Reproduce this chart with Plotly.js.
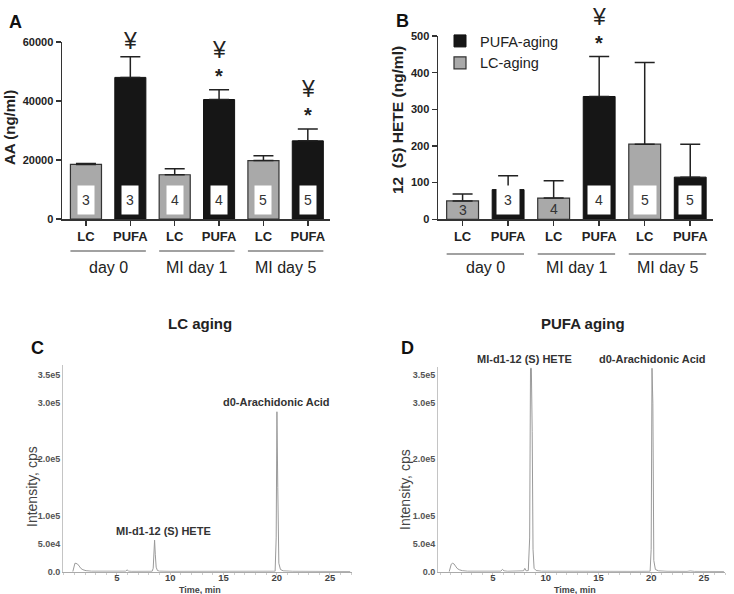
<!DOCTYPE html>
<html><head><meta charset="utf-8">
<script src="https://cdn.plot.ly/plotly-3.0.1.min.js"></script>
<style>html,body{margin:0;padding:0;background:#fff}</style>
</head><body><div id="chart" style="width:734px;height:594px"></div>
<script>
// ---------- data ----------
const groups = ["day 0", "MI day 1", "MI day 5"];
const subLabels = ["LC", "PUFA"];
const seriesNames = ["LC-aging", "PUFA-aging"];

// Panel A: AA (ng/ml)
const aaLC = [18500, 15000, 19800];
const aaLCErr = [300, 2000, 1600];
const aaPUFA = [48000, 40500, 26500];
const aaPUFAErr = [7000, 3300, 4000];
const aaN = [3, 4, 5];
const aaSig = ["¥", "*¥", "*¥"];          // marks above PUFA bars

// Panel B: 12 (S) HETE (ng/ml)
const heteLC = [50, 58, 205];
const heteLCErr = [19, 47, 223];
const hetePUFA = [81, 335, 115];
const hetePUFAErr = [38, 109, 90];
const heteN = [3, 4, 5];
const heteSig = ["", "*¥", ""];
const heteLCBoxed = [false, false, true];

// Panels C/D: chromatograms (time, min / intensity, cps)
const lcTime = [0.85, 0.95, 1.05, 1.15, 1.3, 1.45, 1.6, 1.8, 2.1, 2.6, 3.5, 4.5, 5.8, 5.95, 6.1, 6.4, 7.5, 8.3, 8.4, 8.47, 8.53, 8.6, 8.68, 8.8, 9.0, 10, 12, 15, 18, 19.85, 19.95, 20.02, 20.1, 20.2, 20.35, 20.6, 21.5, 23.4, 23.7, 24.1, 25.5, 26.9];
const lcIntensity = [0, 9000, 15000, 14800, 13500, 10000, 6000, 3500, 1800, 900, 600, 500, 900, 3200, 900, 600, 500, 700, 6000, 40000, 56000, 30000, 8000, 2000, 900, 600, 500, 500, 500, 800, 60000, 284000, 150000, 15000, 4000, 1500, 700, 500, 1500, 500, 400, 300];
const pufaTime = [0.85, 0.95, 1.05, 1.15, 1.3, 1.45, 1.6, 1.8, 2.1, 2.6, 3.5, 4.5, 5.75, 5.9, 6.05, 6.4, 7.5, 7.9, 8.02, 8.15, 8.35, 8.48, 8.56, 8.64, 8.72, 8.8, 8.9, 9.1, 9.6, 12, 15, 18, 19.9, 20.0, 20.08, 20.16, 20.25, 20.4, 20.7, 21.5, 23.4, 23.7, 24.1, 25.5, 26.9];
const pufaIntensity = [0, 7000, 13500, 15000, 14000, 10000, 6000, 3500, 1800, 900, 600, 500, 900, 4200, 1500, 800, 700, 1500, 6000, 1500, 2000, 60000, 362000, 362000, 250000, 40000, 6000, 2000, 900, 500, 500, 500, 700, 40000, 362000, 300000, 20000, 4000, 1500, 700, 500, 1300, 500, 400, 300];
const peakNames = ["MI-d1-12 (S) HETE", "d0-Arachidonic Acid"];
const peakTimes = [8.55, 20.05];
const intensityTicks = [0, 50000, 100000, 200000, 300000, 350000];
const intensityTickText = ["0.0", "5.0e4", "1.0e5", "2.0e5", "3.0e5", "3.5e5"];
const timeTicks = [5, 10, 15, 20, 25];

// ---------- helpers ----------
const FONT = "Arial, 'Liberation Sans', sans-serif";
const W = 734, H = 594;
const px = v => v / W, py = v => 1 - v / H;
const lcX = groups.map((g, i) => 2 * i);
const pufaX = groups.map((g, i) => 2 * i + 1);
const tickVals = groups.flatMap((g, i) => [2 * i, 2 * i + 1]);
const tickText = groups.flatMap(() => subLabels);
const BARW = 0.7;

function barTraces(xa, ya, lc, lcErr, pu, puErr, showLegend) {
  const zeros = lc.map(() => 0);
  return [
    {type: "bar", x: lcX, y: lc, width: BARW, xaxis: xa, yaxis: ya, name: seriesNames[0],
     showlegend: showLegend, marker: {color: "#a9a9a9", line: {color: "#333", width: 1.2}},
     error_y: {type: "data", symmetric: false, array: lcErr, arrayminus: zeros, color: "#222", thickness: 1.5, width: 10}},
    {type: "bar", x: pufaX, y: pu, width: BARW, xaxis: xa, yaxis: ya, name: seriesNames[1],
     showlegend: showLegend, marker: {color: "#161616", line: {color: "#111", width: 1}},
     error_y: {type: "data", symmetric: false, array: puErr, arrayminus: zeros, color: "#222", thickness: 1.5, width: 10}}
  ];
}

function peakAnn(times, vals, t, text, xa, ya, xshift, yshift) {
  let best = 0, bi = 0;
  times.forEach((tt, i) => { if (Math.abs(tt - t) < 0.4 && vals[i] > best) { best = vals[i]; bi = i; } });
  return {xref: xa, yref: ya, x: times[bi], y: vals[bi], text: text, showarrow: false,
          yanchor: "bottom", xshift: xshift, yshift: yshift,
          font: {family: FONT, size: 11, weight: "bold", color: "#333"}};
}

const data = [
  ...barTraces("x", "y", aaLC, aaLCErr, aaPUFA, aaPUFAErr, false),
  ...barTraces("x2", "y2", heteLC, heteLCErr, hetePUFA, hetePUFAErr, true),
  {type: "scatter", mode: "lines", x: lcTime, y: lcIntensity, xaxis: "x3", yaxis: "y3",
   showlegend: false, line: {color: "#9a9a9a", width: 1}},
  {type: "scatter", mode: "lines", x: pufaTime, y: pufaIntensity, xaxis: "x4", yaxis: "y4",
   showlegend: false, line: {color: "#9a9a9a", width: 1}}
];

const annotations = [];
const shapes = [];

// number boxes, significance marks, group labels
function barPanelAnns(xa, ya, lc, lcErr, pu, puErr, nArr, sig, lcBoxed, boxW, lineY, textY) {
  groups.forEach((g, i) => {
    [[lcX[i], lc[i], lcBoxed ? lcBoxed[i] : true], [pufaX[i], pu[i], true]].forEach(([x, v, boxed]) => {
      if (boxed) {
        annotations.push({xref: xa, yref: ya, x: x, y: 0, yanchor: "bottom", yshift: 4, text: String(nArr[i]),
          showarrow: false, width: boxW, height: 26, bgcolor: "#ffffff", borderpad: 1,
          font: {family: FONT, size: 14, color: "#333"}});
      } else {
        annotations.push({xref: xa, yref: ya, x: x, y: v / 2, yanchor: "middle", text: String(nArr[i]),
          showarrow: false, font: {family: FONT, size: 14, color: "#333"}});
      }
    });
    const s = sig[i];
    const top = pu[i] + puErr[i];
    if (s.includes("*")) {
      annotations.push({xref: xa, yref: ya, x: pufaX[i], y: top, yanchor: "middle", yshift: 14, text: "*",
        showarrow: false, font: {family: FONT, size: 20, weight: "bold", color: "#222"}});
    }
    if (s.includes("¥")) {
      annotations.push({xref: xa, yref: ya, x: pufaX[i], y: top, yanchor: "middle", yshift: s.includes("*") ? 40 : 16,
        text: "¥", showarrow: false, font: {family: FONT, size: 23, color: "#222"}});
    }
    shapes.push({type: "line", xref: xa, yref: "paper", x0: lcX[i] - BARW / 2, x1: pufaX[i] + BARW / 2,
      y0: py(lineY), y1: py(lineY), line: {color: "#444", width: 1.2}});
    annotations.push({xref: xa, yref: "paper", x: (lcX[i] + pufaX[i]) / 2, y: py(textY), yanchor: "middle",
      text: g, showarrow: false, font: {family: FONT, size: 16, color: "#222"}});
  });
}
barPanelAnns("x", "y", aaLC, aaLCErr, aaPUFA, aaPUFAErr, aaN, aaSig, null, 14, 251, 267);
barPanelAnns("x2", "y2", heteLC, heteLCErr, hetePUFA, hetePUFAErr, heteN, heteSig, heteLCBoxed, 20, 254, 268);

// peak labels
annotations.push(peakAnn(lcTime, lcIntensity, peakTimes[0], peakNames[0], "x3", "y3", 9, 1));
annotations.push(peakAnn(lcTime, lcIntensity, peakTimes[1], peakNames[1], "x3", "y3", 0, 2));
annotations.push(peakAnn(pufaTime, pufaIntensity, peakTimes[0], peakNames[0], "x4", "y4", -6, 1));
annotations.push(peakAnn(pufaTime, pufaIntensity, peakTimes[1], peakNames[1], "x4", "y4", 0, 1));

// panel letters, titles, axis titles
const txt = (x, y, text, size, opts) => Object.assign({xref: "paper", yref: "paper", x: px(x), y: py(y),
  text: text, showarrow: false, xanchor: "center", yanchor: "middle",
  font: {family: FONT, size: size, color: "#222"}}, opts || {});
const bold = (size, color) => ({family: FONT, size: size, weight: "bold", color: color});
annotations.push(txt(15, 22, "A", 18, {font: bold(18, "#111")}));
annotations.push(txt(402, 21, "B", 18, {font: bold(18, "#111")}));
annotations.push(txt(37, 348, "C", 18, {font: bold(18, "#111")}));
annotations.push(txt(407, 348, "D", 18, {font: bold(18, "#111")}));
annotations.push(txt(200, 323, "LC aging", 15, {font: bold(15, "#222")}));
annotations.push(txt(583, 323, "PUFA aging", 15, {font: bold(15, "#222")}));
annotations.push(txt(9, 128, "AA (ng/ml)", 15, {textangle: -90, font: bold(15, "#222")}));
annotations.push(txt(398, 120, "12  (S) HETE (ng/ml)", 16, {textangle: -90, font: bold(15.5, "#222")}));
annotations.push(txt(32, 487, "Intensity, cps", 14, {textangle: -90, font: {family: FONT, size: 14, color: "#444"}}));
annotations.push(txt(405, 490, "Intensity, cps", 14, {textangle: -90, font: {family: FONT, size: 14, color: "#444"}}));
annotations.push(txt(200, 589.5, "Time, min", 9, {font: bold(9, "#444")}));
annotations.push(txt(575, 589.5, "Time, min", 9, {font: bold(9, "#444")}));

const catX = (dom) => ({domain: dom, range: [-0.54, 5.5], tickvals: tickVals, ticktext: tickText,
  showline: true, linecolor: "#333", linewidth: 1.5, ticks: "outside", ticklen: 5, tickwidth: 1.5, tickcolor: "#333",
  showgrid: false, zeroline: false, fixedrange: true,
  tickfont: bold(13, "#222")});
const valY = (dom, range, dtick) => ({domain: dom, range: range, dtick: dtick, tickformat: "d",
  showline: true, linecolor: "#333", linewidth: 1.5, ticks: "outside", ticklen: 5, tickwidth: 1.5, tickcolor: "#333",
  showgrid: false, zeroline: false, fixedrange: true,
  tickfont: bold(11, "#222")});
const timeX = (dom, range) => ({domain: dom, range: range, tickvals: timeTicks,
  showline: true, linecolor: "#aaa", linewidth: 1, ticks: "", ticklabelstandoff: -3,
  minor: {dtick: 1, ticks: "outside", ticklen: 2, tickcolor: "#ccc"},
  showgrid: false, zeroline: false, fixedrange: true,
  tickfont: bold(9.5, "#444")});
const intY = (dom, range) => ({domain: dom, range: range, tickvals: intensityTicks, ticktext: intensityTickText,
  showline: true, linecolor: "#c4c4c4", linewidth: 1, ticks: "", ticklabelstandoff: 0,
  showgrid: false, zeroline: false, fixedrange: true,
  tickfont: bold(9, "#555")});

const layout = {
  width: W, height: H, margin: {l: 0, r: 0, t: 0, b: 0},
  paper_bgcolor: "#ffffff", plot_bgcolor: "rgba(0,0,0,0)",
  barmode: "overlay", font: {family: FONT, color: "#222"},
  xaxis: Object.assign(catX([px(62), px(330)]), {anchor: "y"}),
  yaxis: Object.assign(valY([py(219), py(42)], [0, 60000], 20000), {anchor: "x"}),
  xaxis2: Object.assign(catX([px(438), px(713)]), {anchor: "y2"}),
  yaxis2: Object.assign(valY([py(219.3), py(36)], [0, 500], 100), {anchor: "x2"}),
  xaxis3: Object.assign(timeX([px(63), px(352)], [-0.07, 27.07]), {anchor: "y3"}),
  yaxis3: Object.assign(intY([py(571.7), py(365)], [0, 367000]), {anchor: "x3"}),
  xaxis4: Object.assign(timeX([px(438), px(725)], [-0.21, 27]), {anchor: "y4"}),
  yaxis4: Object.assign(intY([py(571.7), py(366.6)], [0, 365000]), {anchor: "x4"}),
  showlegend: true,
  legend: {x: px(440), xanchor: "left", y: py(25), yanchor: "top", traceorder: "reversed",
    bgcolor: "rgba(0,0,0,0)", font: {family: FONT, size: 14.5, color: "#222"}},
  annotations: annotations, shapes: shapes
};

Plotly.newPlot("chart", data, layout, {staticPlot: true, displayModeBar: false});
</script></body></html>
